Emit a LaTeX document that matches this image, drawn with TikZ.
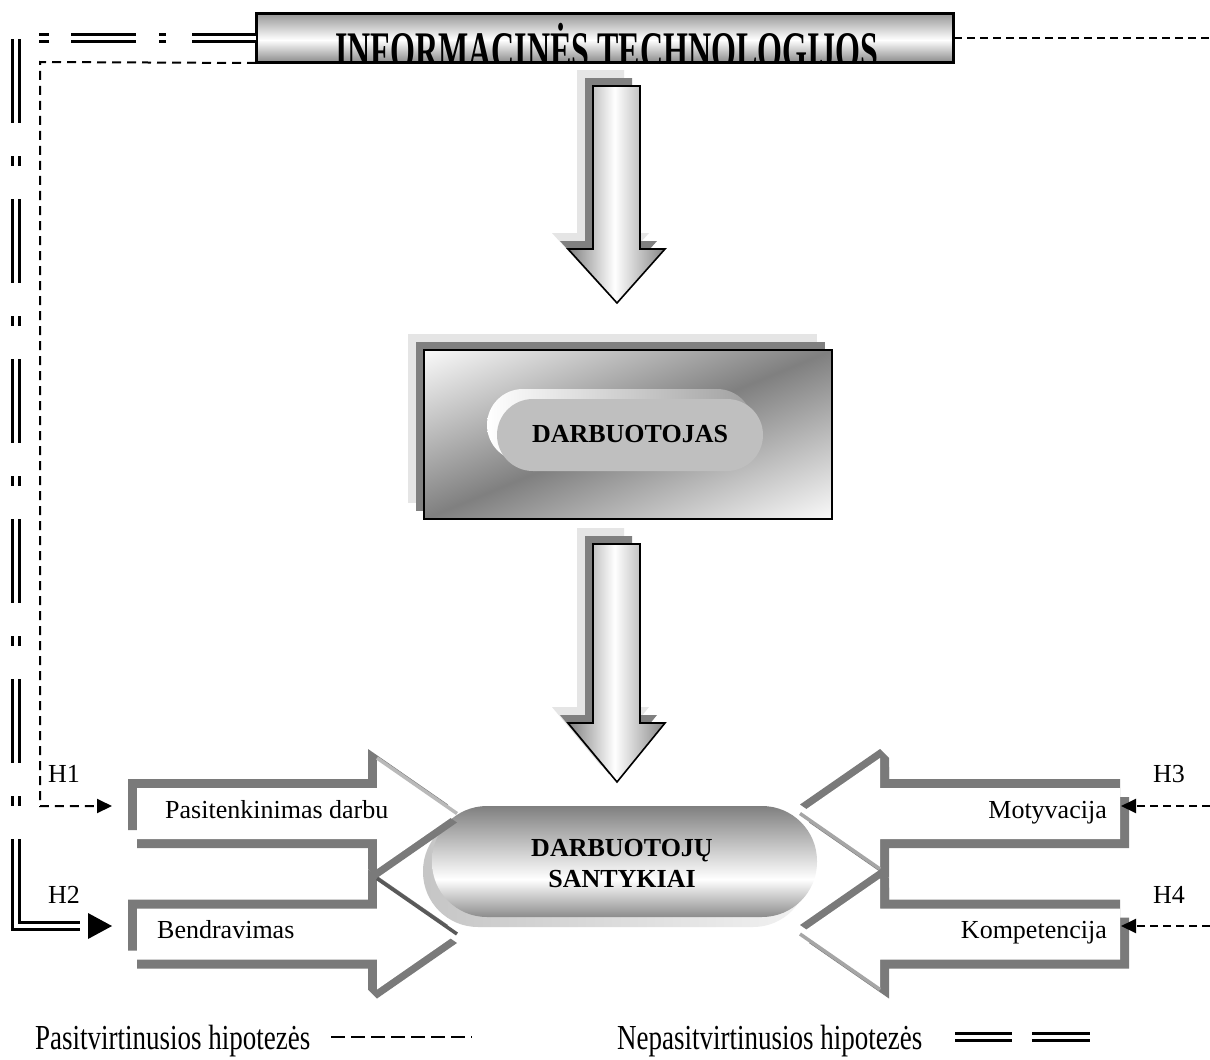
\documentclass[tikz,border=0pt]{standalone}
\usepackage{fontspec}
\usepackage{graphicx}
\setmainfont{Liberation Serif}
\usetikzlibrary{arrows.meta,calc}

% shadings
\pgfdeclareverticalshading{titleshade}{100bp}{color(0bp)=(gray!90); color(25bp)=(gray!90); color(48bp)=(white); color(75bp)=(gray!80); color(100bp)=(gray!80)}
\pgfdeclarehorizontalshading{shaftshade}{100bp}{color(0bp)=(gray); color(25bp)=(gray); color(49bp)=(white); color(75bp)=(gray!95); color(100bp)=(gray!95)}
\pgfdeclareverticalshading{pillshade}{100bp}{color(0bp)=(gray!90); color(25bp)=(gray!90); color(42bp)=(white); color(75bp)=(gray); color(100bp)=(gray)}

\tikzset{
  txt/.style={inner sep=0pt, font=\fontsize{26}{31}\selectfont},
  btxt/.style={inner sep=0pt, font=\bfseries\fontsize{26}{31}\selectfont, align=center},
  legtxt/.style={inner sep=0pt, font=\fontsize{27}{32}\selectfont},
  dashline/.style={draw=black, line width=2pt, dash pattern=on 9pt off 6pt},
  dashlineR/.style={draw=black, line width=2pt, dash pattern=on 8pt off 5pt},
  dbl/.style={draw=black, line width=3.3pt, double=white, double distance=3.4pt},
  band/.style={fill=black!52},
  farshadow/.style={fill=gray!20},
  nearshadow/.style={fill=gray},
  downarrow/.style={draw=black, line width=1.6pt, shading=shaftshade},
  tip/.style={-{Triangle[length=15pt,width=14pt]}},
}

% block arrow faces, centred vertically on 0
\def\lface{(137,-25.5) -- (377,-25.5) -- (377,-55.5) -- (457,0) -- (377,55.5) -- (377,25.5) -- (137,25.5) -- cycle}
\def\rface{(1120,-25.5) -- (880,-25.5) -- (880,-55.5) -- (800,0) -- (880,55.5) -- (880,25.5) -- (1120,25.5) -- cycle}

% 3-D block arrow pointing right: #1 centre y, #2 colour of the lit edge
\newcommand\leftblock[2]{%
  \begin{scope}[shift={(0,#1)}]
    \fill[band,shift={(-9,-9)}] \lface;
    \fill[band,shift={(0,9)}] \lface;
    \fill[band] (368,16.5) -- (377,16.5) -- (377,64.5) -- (368,55.5) -- cycle;
    \fill[white] \lface;
    \draw[#2,line width=3.5pt] (377,-55.5) -- (457,0);
  \end{scope}}
% 3-D block arrow pointing left
\newcommand\rightblock[2]{%
  \begin{scope}[shift={(0,#1)}]
    \fill[band,shift={(9,9)}] \rface;
    \fill[band,shift={(0,-9)}] \rface;
    \fill[band] (889,-16.5) -- (880,-16.5) -- (880,-64.5) -- (889,-55.5) -- cycle;
    \fill[white] \rface;
    \draw[#2,line width=3.5pt] (880,55.5) -- (800,0);
  \end{scope}}

% big shaded down arrow with two stacked shadows: #1 top y, #2 head y, #3 tip y (relative)
\newcommand\bigdown[3]{%
  \begin{scope}[shift={(0,#1)}]
    \fill[farshadow,shift={(-16,-16)}] (593,0) -- (640,0) -- (640,#2) -- (665,#2) -- (617,#3) -- (568,#2) -- (593,#2) -- cycle;
    \fill[nearshadow,shift={(-8,-8)}] (593,0) -- (640,0) -- (640,#2) -- (665,#2) -- (617,#3) -- (568,#2) -- (593,#2) -- cycle;
    \path[downarrow] (593,0) -- (640,0) -- (640,#2) -- (665,#2) -- (617,#3) -- (568,#2) -- (593,#2) -- cycle;
  \end{scope}}

\begin{document}
\begin{tikzpicture}[x=1pt,y=-1pt,line join=miter]
\fill[white] (0,0) rectangle (1210,1060);
\useasboundingbox (0,0) rectangle (1210,1060);

% ---------- title box ----------
\node[draw, line width=2pt, shading=titleshade, minimum width=696pt, minimum height=48pt, inner sep=0pt] (it) at (605,38) {};
\begin{scope}
  \clip (it.south west) rectangle (it.north east);
  \node[inner sep=0pt, anchor=base, font=\bfseries\fontsize{32}{38}\selectfont] (itlabel) at (607,68) {\scalebox{1}[1.65]{INFORMACINĖS TECHNOLOGIJOS}};
\end{scope}
\draw[line width=2pt] (it.south west) rectangle (it.north east);

% ---------- arrows down ----------
\bigdown{86}{163}{217}
\bigdown{544}{179}{238}

% ---------- employee box ----------
\fill[farshadow] (408,334) rectangle (817,503);
\fill[nearshadow] (416,342) rectangle (825,511);
\begin{scope}
  \clip (424,350) rectangle (832,519);
  % diagonal sheen: light at two opposite corners, grey along the other diagonal
  \shade[transform canvas={rotate around={22.5:(628,434.5)}}, top color=white, bottom color=white, middle color=gray]
    (398,272) rectangle (858,597);
\end{scope}
\draw[line width=2pt] (424,350) rectangle (832,519);
\path[left color=white, right color=gray!75, rounded corners=36pt] (487,389) rectangle (753,461);
\fill[gray!50, rounded corners=36pt] (497,399) rectangle (763,471);
\node[btxt, anchor=base] (emp) at (630,442) {DARBUOTOJAS};

% ---------- relations pill ----------
\path[left color=gray!45, right color=gray!10, rounded corners=55pt] (423,816) rectangle (808,927);
\path[shading=pillshade, rounded corners=55pt] (432,806) rectangle (817,917);
\node[btxt] (rel) at (622,863.5) {DARBUOTOJŲ\\SANTYKIAI};

% ---------- block arrows ----------
\leftblock{813.5}{gray!55}
\leftblock{934}{black!65}
\rightblock{813.5}{gray!70}
\rightblock{934}{gray!70}

\node[txt, anchor=base west] (pas) at (165,818) {Pasitenkinimas darbu};
\node[txt, anchor=base west] (ben) at (157,938) {Bendravimas};
\node[txt, anchor=base east] (mot) at (1107,818) {Motyvacija};
\node[txt, anchor=base east] (kom) at (1107,938) {Kompetencija};

\node[txt, anchor=base west] (h1) at (48,782) {H1};
\node[txt, anchor=base west] (h2) at (48,903) {H2};
\node[txt, anchor=base west] (h3) at (1153,782) {H3};
\node[txt, anchor=base west] (h4) at (1153,903) {H4};

% ---------- hypothesis connectors ----------
\coordinate (h1tip) at (112,806);
\coordinate (h2tip) at (112,926);
\coordinate (h3tip) at (1121,806);
\coordinate (h4tip) at (1121,926);
\coordinate (topend) at (1210,38);
\coordinate (h3end) at (1210,806);
\coordinate (h4end) at (1210,926);

\draw[dashlineR] (it.east) -- (topend);
\draw[dashline, tip] (it.south west) -- (40,62) -- (40,806) -- (h1tip);
\draw[dashlineR, tip] (h3end) -- (h3tip);
\draw[dashlineR, tip] (h4end) -- (h4tip);

\draw[dbl, dash pattern=on 64pt off 26pt on 7pt off 23pt on 65pt off 22pt on 10pt off 24pt
      on 84pt off 33pt on 10pt off 33pt on 84pt off 33pt on 10pt off 33pt
      on 84pt off 33pt on 10pt off 33pt on 84pt off 33pt on 10pt off 33pt
      on 84pt off 33pt on 10pt off 33pt on 200pt off 10pt]
  (it.west) -- (16,38) -- (16,926) -- ($(h2tip)+(-32,0)$);
\fill (h2tip) -- ++(-24,-13) -- ++(0,26) -- cycle;

% ---------- legend ----------
\node[legtxt, anchor=base west] (leg1) at (35,1049) {\scalebox{1}[1.3]{Pasitvirtinusios hipotezės}};
\node[legtxt, anchor=base west] (leg2) at (617,1049) {\scalebox{1}[1.3]{Nepasitvirtinusios hipotezės}};
\draw[line width=2pt, dash pattern=on 14pt off 6pt] (331,1037) -- (472,1037);
\draw[dbl] (955,1037) -- (1012,1037);
\draw[dbl] (1032,1037) -- (1090,1037);
\end{tikzpicture}
\end{document}
